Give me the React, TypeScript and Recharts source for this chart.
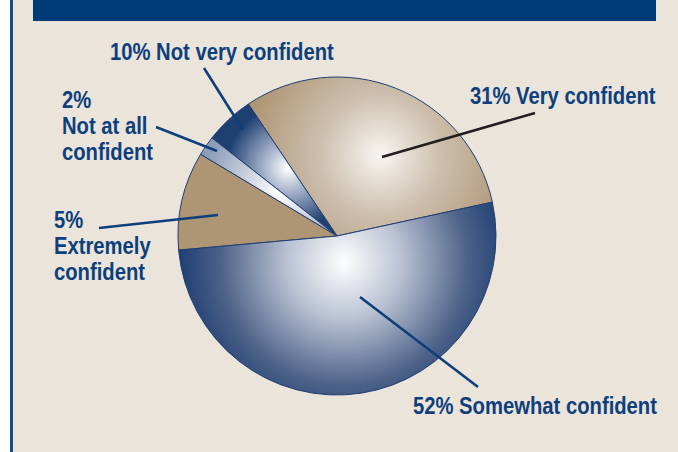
import React from 'react';
import { PieChart, Pie, Cell } from 'recharts';

// slice order follows the drawing, counter-clockwise from the right-hand edge
const names = ['Very confident', 'Not very confident', 'Not at all confident', 'Extremely confident', 'Somewhat confident'];
// printed percentages (as they appear in the labels)
const printed = [31, 10, 2, 5, 52];
// angular share of each slice as drawn in the picture (the small blue and left tan slices are swapped vs. their labels)
const drawnShare = [31, 5, 2, 10, 52];
const labelLines = [
  ['31% Very confident'],
  ['10% Not very confident'],
  ['2%', 'Not at all', 'confident'],
  ['5%', 'Extremely', 'confident'],
  ['52% Somewhat confident'],
];

const data = names.map((name, i) => ({ name, value: drawnShare[i], printed: printed[i] }));

const fills = ['url(#gVery)', 'url(#gNotVery)', 'url(#gNotAll)', '#ae9574', 'url(#gSome)'];

// label text position and leader line (from text side to slice)
const labelLayout = [
  { x: 470, y: 104, line: [535, 113, 382, 157], lineColor: '#231f20' },
  { x: 110, y: 60, line: [204, 68, 243, 130], lineColor: '#0d3f7d' },
  { x: 62, y: 108, line: [156, 127, 217, 151], lineColor: '#0d3f7d' },
  { x: 54, y: 228, line: [99, 228, 218, 215], lineColor: '#0d3f7d' },
  { x: 413, y: 414, line: [360, 297, 478, 387], lineColor: '#0d3f7d' },
];

const font = "'Liberation Sans', Arial, sans-serif";

const renderLabel = (props: any) => {
  const i = props.index;
  const l = labelLayout[i];
  return (
    <g key={'lab' + i}>
      <line x1={l.line[0]} y1={l.line[1]} x2={l.line[2]} y2={l.line[3]} stroke={l.lineColor} strokeWidth={2.6} />
      <g transform={`translate(${l.x},${l.y}) scale(0.88,1)`}>
        <text x={0} y={0} fill="#0d3f7d" fontFamily={font} fontWeight="bold" fontSize={23}>
          {labelLines[i].map((t, k) => (
            <tspan key={k} x={0} dy={k === 0 ? 0 : 26}>{t}</tspan>
          ))}
        </text>
      </g>
    </g>
  );
};

const App = () => {
  return (
    <div style={{ position: 'absolute', left: 0, top: 0, width: 678, height: 452, background: '#ffffff', overflow: 'hidden' }}>
      <div style={{ position: 'absolute', left: 10, top: 0, width: 3, height: 452, background: '#1a4a8a' }} />
      <div style={{ position: 'absolute', left: 13, top: 0, width: 665, height: 452, background: '#ebe4da' }} />
      <div style={{ position: 'absolute', left: 33, top: 0, width: 623, height: 21, background: '#003b79' }} />
      <div style={{ position: 'absolute', left: 0, top: 0 }}>
        <PieChart width={678} height={452} margin={{ top: 0, right: 0, bottom: 0, left: 0 }}>
          <defs>
            <radialGradient id="gSome" gradientUnits="userSpaceOnUse" cx={344} cy={262} r={165} fx={344} fy={262}>
              <stop offset="0%" stopColor="#ffffff" />
              <stop offset="35%" stopColor="#b9c1d2" />
              <stop offset="75%" stopColor="#4c6288" />
              <stop offset="100%" stopColor="#1f3f73" />
            </radialGradient>
            <radialGradient id="gVery" gradientUnits="userSpaceOnUse" cx={380} cy={155} r={135} fx={380} fy={155}>
              <stop offset="0%" stopColor="#f7f5f2" />
              <stop offset="45%" stopColor="#cdbfad" />
              <stop offset="100%" stopColor="#ae9574" />
            </radialGradient>
            <radialGradient id="gNotVery" gradientUnits="userSpaceOnUse" cx={288} cy={168} r={62} fx={288} fy={168}>
              <stop offset="0%" stopColor="#ffffff" />
              <stop offset="40%" stopColor="#a3b0c8" />
              <stop offset="100%" stopColor="#1f3f73" />
            </radialGradient>
            <radialGradient id="gNotAll" gradientUnits="userSpaceOnUse" cx={280} cy={192} r={80} fx={280} fy={192}>
              <stop offset="0%" stopColor="#ffffff" />
              <stop offset="100%" stopColor="#8d9db8" />
            </radialGradient>
          </defs>
          <Pie
            data={data}
            dataKey="value"
            nameKey="name"
            cx={337}
            cy={236}
            outerRadius={159}
            startAngle={12.3}
            endAngle={372.3}
            stroke="#1f3f73"
            strokeWidth={1}
            label={renderLabel}
            labelLine={false}
            isAnimationActive={false}
          >
            {data.map((d, i) => (
              <Cell key={d.name} fill={fills[i]} />
            ))}
          </Pie>
        </PieChart>
      </div>
    </div>
  );
};

export default App;
